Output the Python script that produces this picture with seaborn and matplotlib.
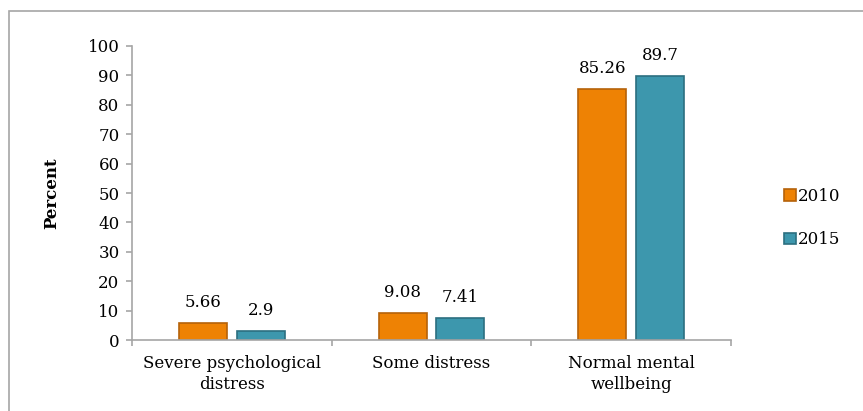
import pandas as pd
import matplotlib.pyplot as plt
import matplotlib.patches as mpatches
import seaborn as sns

# data
categories = ['Severe psychological\ndistress', 'Some distress', 'Normal mental\nwellbeing']
years = ['2010', '2015']
values_2010 = [5.66, 9.08, 85.26]
values_2015 = [2.9, 7.41, 89.7]
labels_2010 = ['5.66', '9.08', '85.26']
labels_2015 = ['2.9', '7.41', '89.7']

df = pd.DataFrame({
    'Category': categories * 2,
    'Year': [years[0]] * 3 + [years[1]] * 3,
    'Percent': values_2010 + values_2015,
})

fill_colors = ['#EE8204', '#3D97AD']
edge_colors = ['#B5620A', '#2C6F80']
fs = 12

sns.set_style('white')
plt.rcParams['font.family'] = ['DejaVu Serif']
plt.rcParams['text.color'] = 'black'
plt.rcParams['axes.labelcolor'] = 'black'
plt.rcParams['xtick.labelcolor'] = 'black'
plt.rcParams['ytick.labelcolor'] = 'black'

fig = plt.figure(figsize=(8.63, 4.11), dpi=100)
ax = fig.add_axes([132 / 863, 71 / 411, 599 / 863, 294 / 411])

sns.barplot(data=df, x='Category', y='Percent', hue='Year', palette=fill_colors,
            width=0.58, gap=0.17, ax=ax, legend=False, saturation=1)

for cont, ec, labs in zip(ax.containers, edge_colors, [labels_2010, labels_2015]):
    for p in cont:
        p.set_edgecolor(ec)
        p.set_linewidth(1.2)
    ax.bar_label(cont, labels=labs, padding=9, fontsize=fs, color='black')

# frame around the whole chart (clipped on right and bottom)
fig.patches.append(mpatches.Rectangle((9 / 863, -0.1), 2, 1 - 11 / 411 + 0.1,
                                      transform=fig.transFigure, fill=False,
                                      edgecolor='#A6A6A6', linewidth=1.2))

ax.set_ylim(0, 100)
ax.set_xlim(-0.5, 2.5)
ax.set_yticks(range(0, 101, 10))
ax.set_xticks([-0.5, 0.5, 1.5, 2.5], minor=True)
ax.set_xticks(range(3))
ax.set_xticklabels(categories, fontsize=fs, linespacing=1.3)
ax.tick_params(axis='x', which='major', length=0, pad=11)
ax.tick_params(axis='x', which='minor', bottom=True, length=4, width=1.2,
               color='#A6A6A6', direction='out')
ax.tick_params(axis='y', left=True, length=4, width=1.2, color='#A6A6A6',
               direction='out', labelsize=fs, pad=5)
ax.set_xlabel('')
ax.set_ylabel('Percent', fontsize=fs, fontweight='bold', labelpad=20)

for side in ['top', 'right']:
    ax.spines[side].set_visible(False)
for side in ['left', 'bottom']:
    ax.spines[side].set_color('#A6A6A6')
    ax.spines[side].set_linewidth(1.2)

handles = [mpatches.Patch(facecolor=fc, edgecolor=ec, linewidth=1.2, label=y)
           for fc, ec, y in zip(fill_colors, edge_colors, years)]
fig.legend(handles=handles, loc='center left', bbox_to_anchor=(776 / 863, 1 - 218 / 411),
           frameon=False, fontsize=fs, handlelength=0.7, handleheight=0.7,
           handletextpad=0.1, labelspacing=1.6, borderpad=0)

plt.savefig('out.png', dpi=100)
